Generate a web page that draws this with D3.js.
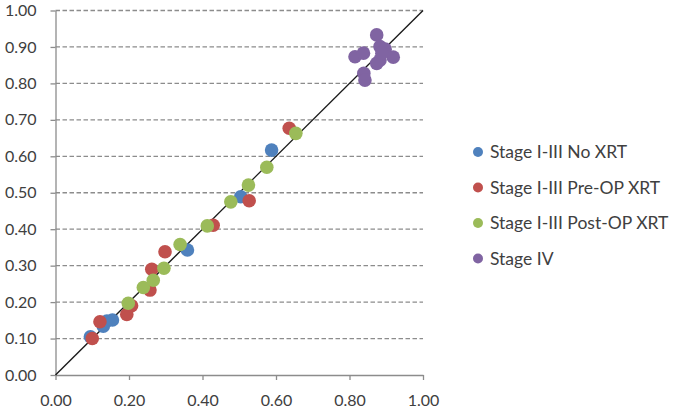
<!DOCTYPE html>
<html>
<head>
<meta charset="utf-8">
<script src="https://cdn.jsdelivr.net/npm/d3@7"></script>
<style>
  body { margin: 0; background: #fff; }
  text { font-family: Lato, "Open Sans", sans-serif; fill: #404040; }
</style>
</head>
<body>
<div id="chart"></div>
<script>
const seriesNames = ['Stage I-III No XRT', 'Stage I-III Pre-OP XRT', 'Stage I-III Post-OP XRT', 'Stage IV'];
const seriesColors = ['#4F81BD', '#C0504D', '#9BBB59', '#8064A2'];

const noXrtX = [0.095, 0.130, 0.140, 0.155, 0.359, 0.504, 0.588];
const noXrtY = [0.105, 0.134, 0.148, 0.151, 0.343, 0.489, 0.617];

const preOpX = [0.100, 0.121, 0.194, 0.207, 0.257, 0.262, 0.298, 0.429, 0.527, 0.636];
const preOpY = [0.100, 0.146, 0.166, 0.190, 0.233, 0.290, 0.338, 0.411, 0.478, 0.677];

const postOpX = [0.198, 0.239, 0.266, 0.295, 0.339, 0.413, 0.477, 0.525, 0.575, 0.654];
const postOpY = [0.197, 0.240, 0.260, 0.293, 0.358, 0.409, 0.475, 0.521, 0.570, 0.663];

const stage4X = [0.874, 0.883, 0.897, 0.815, 0.838, 0.919, 0.883, 0.874, 0.839, 0.842, 0.888];
const stage4Y = [0.933, 0.901, 0.894, 0.873, 0.883, 0.872, 0.864, 0.855, 0.828, 0.809, 0.883];

const tickValues = [0, 0.1, 0.2, 0.3, 0.4, 0.5, 0.6, 0.7, 0.8, 0.9, 1.0];
const xTickValues = [0, 0.2, 0.4, 0.6, 0.8, 1.0];

const width = 675;
const height = 410;
const margin = { top: 10.5, right: 252, bottom: 35, left: 55.5 };

const svg = d3.select('#chart')
  .append('svg')
  .attr('width', width)
  .attr('height', height);

const xScale = d3.scaleLinear()
  .domain([0, 1])
  .range([margin.left, width - margin.right]);

const yScale = d3.scaleLinear()
  .domain([0, 1])
  .range([height - margin.bottom, margin.top]);

// dashed gridlines
svg.append('g')
  .selectAll('line')
  .data(tickValues.filter(d => d > 0))
  .join('line')
  .attr('x1', xScale(0))
  .attr('x2', xScale(1))
  .attr('y1', d => yScale(d))
  .attr('y2', d => yScale(d))
  .attr('stroke', '#8c8c8c')
  .attr('stroke-width', 1.3)
  .attr('stroke-dasharray', '4.5,2.5');

const yAxis = d3.axisLeft(yScale)
  .tickValues(tickValues)
  .tickFormat(d3.format('.2f'))
  .tickSize(5)
  .tickSizeOuter(0);

const xAxis = d3.axisBottom(xScale)
  .tickValues(xTickValues)
  .tickFormat(d3.format('.2f'))
  .tickSize(5)
  .tickSizeOuter(0);

const yAxisG = svg.append('g')
  .attr('transform', `translate(${xScale(0)},0)`)
  .call(yAxis);

const xAxisG = svg.append('g')
  .attr('transform', `translate(0,${yScale(0)})`)
  .call(xAxis);

[yAxisG, xAxisG].forEach(g => {
  g.select('.domain').attr('stroke', '#8c8c8c').attr('stroke-width', 1.3);
  g.selectAll('.tick line').attr('stroke', '#8c8c8c').attr('stroke-width', 1.3);
  g.selectAll('.tick text')
    .style('font-family', 'Lato, "Open Sans", sans-serif')
    .style('font-size', '16px')
    .attr('fill', '#404040');
});
yAxisG.selectAll('.tick text').attr('x', -19);
xAxisG.selectAll('.tick text').attr('y', 20);

// diagonal reference line
svg.append('line')
  .attr('x1', xScale(0))
  .attr('y1', yScale(0))
  .attr('x2', xScale(1))
  .attr('y2', yScale(1))
  .attr('stroke', '#1a1a1a')
  .attr('stroke-width', 1.4);

const allSeries = [
  { xs: noXrtX, ys: noXrtY },
  { xs: preOpX, ys: preOpY },
  { xs: postOpX, ys: postOpY },
  { xs: stage4X, ys: stage4Y }
];

allSeries.forEach((s, i) => {
  svg.append('g')
    .selectAll('circle')
    .data(s.xs.map((x, j) => ({ x: x, y: s.ys[j] })))
    .join('circle')
    .attr('cx', d => xScale(d.x))
    .attr('cy', d => yScale(d.y))
    .attr('r', 6.8)
    .attr('fill', seriesColors[i]);
});

// legend
const legend = svg.append('g')
  .attr('transform', 'translate(478,152)');

seriesNames.forEach((name, i) => {
  const row = legend.append('g')
    .attr('transform', `translate(0,${i * 35.5})`);
  row.append('circle')
    .attr('r', 5)
    .attr('fill', seriesColors[i]);
  row.append('text')
    .attr('x', 12)
    .attr('dy', '0.36em')
    .style('font-size', '17.5px')
    .text(name);
});
</script>
</body>
</html>
